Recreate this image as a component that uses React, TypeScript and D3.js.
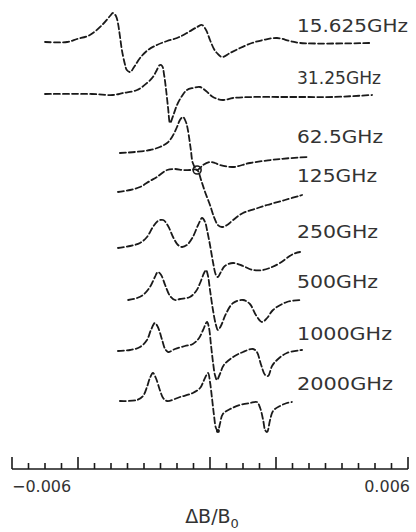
import React from "react";
import * as d3 from "d3";

// x in units of 1e-3 (ΔB/B0 × 10^3); y = amplitude relative to each trace's baseline
const labels = ["15.625GHz", "31.25GHz", "62.5GHz", "125GHz", "250GHz", "500GHz", "1000GHz", "2000GHz"];
const offsets = [42.6, 37.4, 31.5, 27.6, 22.0, 17.0, 11.8, 6.8];

const xA = [-5.0,-4.33,-4.03,-3.64,-3.24,-3.03,-2.94,-2.85,-2.79,-2.73,-2.67,-2.58,-2.52,-2.42,-2.30,-2.12,-1.88,-1.61,-1.30,-1.0,-0.70,-0.39,-0.24,-0.12,0,0.12,0.21,0.36,0.61,0.91,1.27,1.61,2.03,2.42,2.73,4.85];
const yA = [0,0,0.3,0.7,1.8,2.6,2.9,2.6,1.9,0.6,-0.8,-2.2,-2.8,-3.0,-2.5,-1.6,-0.8,-0.3,0.1,0.4,0.9,1.5,1.7,1.2,0.2,-0.7,-1.1,-1.5,-1.1,-0.6,-0.1,0.2,0.4,0.1,-0.1,-0.1];

const xB = [-5.0,-3.58,-2.94,-2.64,-2.21,-1.91,-1.73,-1.61,-1.52,-1.45,-1.39,-1.33,-1.27,-1.21,-1.12,-1.0,-0.85,-0.70,-0.52,-0.30,-0.12,0.09,0.39,0.70,1.30,2.12,2.94,3.73,4.91];
const yB = [0,0,-0.1,0.1,0.4,1.1,1.7,2.4,2.9,2.8,1.9,0.4,-1.4,-2.9,-2.2,-1.1,-0.2,0.4,0.6,0.7,0.3,-0.3,-0.6,-0.4,-0.3,-0.3,-0.3,-0.3,-0.1];

const xC = [-2.73,-2.27,-1.82,-1.52,-1.30,-1.15,-1.0,-0.91,-0.82,-0.73,-0.67,-0.58,-0.52,-0.39,-0.30,-0.21,0,0.15,0.30,0.70,1.21,2.12,2.94];
const yC = [0,0.1,0.3,0.6,1.0,1.6,2.6,3.3,3.6,3.1,2.3,0.3,-1.0,-1.7,-1.5,-1.2,-0.9,-1.0,-1.2,-1.4,-1.0,-0.6,-0.4];

const xD = [-2.79,-2.42,-2.12,-1.82,-1.61,-1.30,-1.06,-0.82,-0.61,-0.39,-0.27,-0.15,0,0.12,0.24,0.36,0.52,0.70,1.0,1.36,1.73,2.27,2.79];
const yD = [0,0.2,0.5,1.1,1.5,2.2,2.3,2.2,2.2,2.2,1.2,0,-1.3,-2.5,-3.3,-3.5,-3.3,-2.8,-2.1,-1.7,-1.3,-0.8,-0.3];

const xE = [-2.79,-2.42,-2.12,-1.91,-1.73,-1.58,-1.42,-1.27,-1.12,-0.97,-0.85,-0.70,-0.52,-0.36,-0.24,-0.15,-0.09,0,0.09,0.18,0.24,0.33,0.45,0.70,1.0,1.30,1.61,1.88,2.12,2.52,2.73];
const yE = [0,0.2,0.5,1.1,2.1,2.7,2.8,2.2,1.1,0.3,0.1,0.3,1.1,2.3,3.0,2.6,1.8,0.3,-1.4,-2.7,-2.9,-2.4,-1.8,-1.5,-1.8,-2.2,-2.2,-1.9,-1.5,-0.6,-0.4];

const xF = [-2.48,-2.21,-2.03,-1.82,-1.67,-1.58,-1.48,-1.36,-1.21,-1.06,-0.91,-0.61,-0.42,-0.30,-0.18,-0.12,-0.06,0,0.09,0.18,0.24,0.33,0.48,0.70,1.0,1.21,1.39,1.58,1.73,1.91,2.33,2.79];
const yF = [-0.2,0,0.3,1.1,2.1,2.6,2.3,1.3,0.2,-0.2,-0.1,0.1,0.7,1.5,2.5,2.8,2.2,0.8,-1.2,-2.7,-3.2,-2.8,-1.6,-0.5,-0.2,-0.6,-1.7,-2.4,-2.0,-1.2,-0.4,-0.2];

const xG = [-2.79,-2.42,-2.12,-1.91,-1.79,-1.67,-1.58,-1.45,-1.36,-1.27,-1.06,-0.76,-0.52,-0.33,-0.21,-0.09,-0.03,0.03,0.09,0.15,0.21,0.30,0.42,0.70,1.0,1.30,1.42,1.55,1.67,1.76,1.88,2.03,2.33,2.79];
const yG = [-0.1,0,0.3,1.0,2.0,2.7,2.3,1.0,0.1,-0.2,0.1,0.4,0.6,1.2,2.0,2.8,2.2,0.5,-1.2,-2.5,-3.0,-2.4,-1.5,-0.7,-0.2,0.1,-0.2,-1.5,-2.5,-2.6,-1.6,-1.0,-0.3,0];

const xH = [-2.73,-2.21,-2.03,-1.91,-1.82,-1.73,-1.64,-1.52,-1.42,-1.30,-0.91,-0.52,-0.30,-0.18,-0.06,0,0.06,0.12,0.18,0.24,0.30,0.39,0.61,0.91,1.21,1.42,1.52,1.61,1.67,1.73,1.82,1.91,2.12,2.33,2.48];
const yH = [-0.1,0,0.4,1.3,2.2,2.7,2.2,1.0,0.2,-0.1,0.3,0.7,1.2,2.0,2.7,1.8,0.2,-1.5,-2.8,-3.1,-2.4,-1.4,-0.9,-0.5,-0.3,-0.2,-0.8,-2.0,-3.0,-3.2,-2.0,-1.1,-0.6,-0.3,-0.2];

const seriesX = [xA, xB, xC, xD, xE, xF, xG, xH];
const seriesY = [yA, yB, yC, yD, yE, yF, yG, yH];

// crossing marker (on 62.5/125 GHz traces) and dot (2000 GHz minimum)
const circleMark = { x: -0.39, trace: 3, y: 2.2 };
const dotMark = { x: 0.24, trace: 7, y: -3.1 };

const axisTicks = d3.range(-6, 6.001, 0.5);
const majorTicks = [-6, -4, 0, 2, 6];
const labelWidths = [111, 84, 86, 80, 81, 81, 95, 96];

const W = 416, H = 532;

export default function App() {
  const x = d3.scaleLinear().domain([-6, 6]).range([12, 408]);
  const y = d3.scaleLinear().domain([0, 46.8]).range([468, 0]);
  const line = d3
    .line<[number, number]>()
    .x((d) => x(d[0]))
    .y((d) => y(d[1]))
    .curve(d3.curveCatmullRom.alpha(0.5));

  const ink = "#1a1a1a";
  return (
    <svg width={W} height={H} style={{ position: "absolute", left: 0, top: 0, background: "#fff" }}>
      {seriesX.map((xs, i) => {
        const pts = xs.map((v, j) => [v, offsets[i] + seriesY[i][j]] as [number, number]);
        return (
          <path key={i} d={line(pts) || ""} fill="none" stroke={ink} strokeWidth={1.8}
            strokeDasharray="6,3" strokeLinecap="round" />
        );
      })}
      <circle cx={x(circleMark.x)} cy={y(offsets[circleMark.trace] + circleMark.y)} r={4}
        fill="none" stroke={ink} strokeWidth={1.6} />
      <circle cx={x(dotMark.x)} cy={y(offsets[dotMark.trace] + dotMark.y)} r={2} fill={ink} />
      {labels.map((t, i) => {
        const baseY = y(offsets[i]);
        return (
          <text key={t} x={297} y={baseY - 10} fontFamily="DejaVu Sans" fontSize={17}
            fill="#333" textLength={labelWidths[i]} lengthAdjust="spacingAndGlyphs">
            {t}
          </text>
        );
      })}
      {/* axis */}
      <line x1={x(-6)} x2={x(6)} y1={469} y2={469} stroke={ink} strokeWidth={1.6} />
      {axisTicks.map((t) => {
        const major = majorTicks.some((m) => Math.abs(m - t) < 1e-6);
        return (
          <line key={t} x1={x(t)} x2={x(t)} y1={469} y2={major ? 457 : 463}
            stroke={ink} strokeWidth={1.6} />
        );
      })}
      <text x={x(-6)} y={492} fontFamily="DejaVu Sans" fontSize={16} fill="#333">−0.006</text>
      <text x={x(6) + 2} y={492} fontFamily="DejaVu Sans" fontSize={16} fill="#333" textAnchor="end">0.006</text>
      <text x={212} y={523} fontFamily="DejaVu Sans" fontSize={19} fill="#333" textAnchor="middle">
        ΔB/B<tspan fontSize={13} dy={5}>0</tspan>
      </text>
    </svg>
  );
}
